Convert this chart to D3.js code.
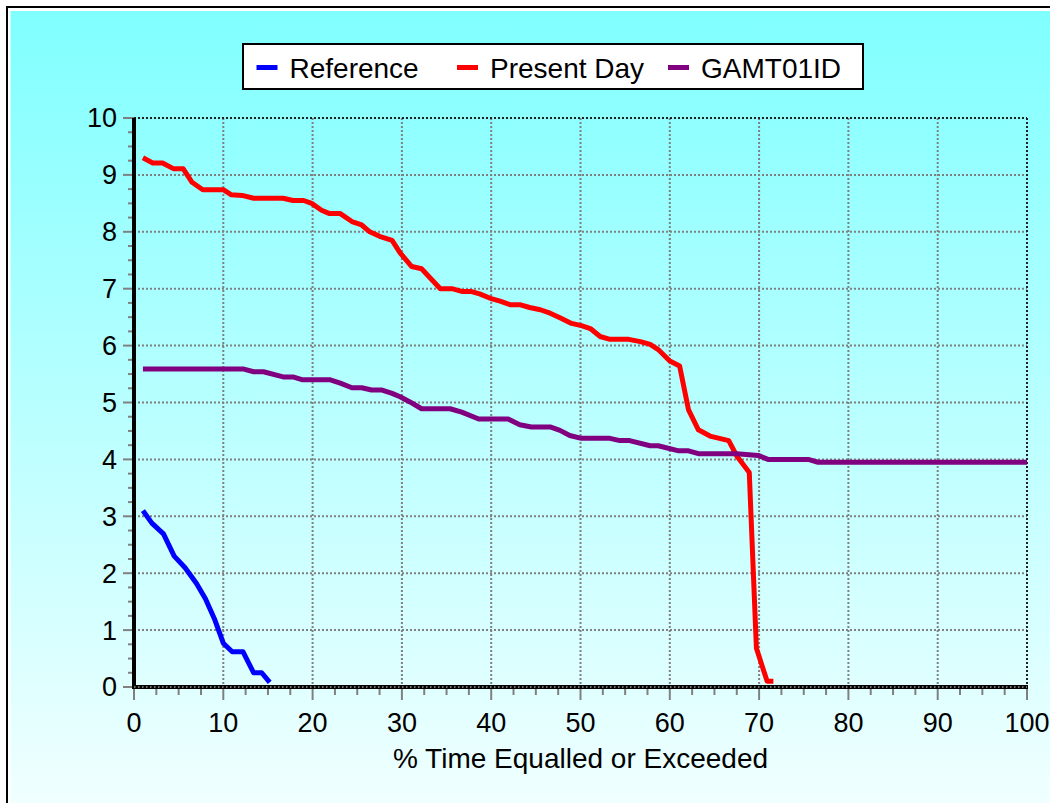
<!DOCTYPE html>
<html>
<head>
<meta charset="utf-8">
<script src="https://cdn.jsdelivr.net/npm/d3@7"></script>
<style>
  html, body { margin: 0; padding: 0; background: #ffffff; }
  svg { display: block; }
  text { font-family: Arial, "Liberation Sans", sans-serif; fill: #000; }
</style>
</head>
<body>
<svg id="chart" width="1050" height="803"></svg>
<script>
// ---------------- DATA ----------------
const seriesNames = ["Reference", "Present Day", "GAMT01ID"];
const seriesColors = ["#0000ff", "#ff0000", "#800080"];

const referenceX = [1, 2, 3.3, 4.5, 5.7, 7, 8, 9, 10, 11, 12.2, 13.4, 14.3, 15.2];
const referenceY = [3.1, 2.88, 2.69, 2.3, 2.1, 1.82, 1.55, 1.2, 0.77, 0.62, 0.62, 0.25, 0.25, 0.08];

const presentDayX = [1, 2.1, 3.2, 4.4, 5.5, 6.5, 7.7, 10, 10.9, 12.1, 13.4, 16.7, 17.8, 19, 19.9, 21, 21.9, 23.1, 24.4, 25.5, 26.4, 27.5, 28.9, 29.8, 31.1, 32.2, 34.3, 35.6, 36.8, 37.8, 38.7, 40.1, 41, 42.1, 43.2, 44.3, 45.5, 46.6, 47.7, 49, 50.1, 51.1, 52.2, 53.3, 55.4, 56.7, 57.8, 58.7, 60, 61.1, 62.1, 63.2, 64.5, 66.6, 67.5, 68.9, 69.7, 70.9, 71.6];
const presentDayY = [9.3, 9.21, 9.21, 9.11, 9.11, 8.87, 8.74, 8.74, 8.65, 8.64, 8.59, 8.59, 8.55, 8.55, 8.5, 8.38, 8.32, 8.32, 8.18, 8.12, 8.0, 7.92, 7.85, 7.63, 7.39, 7.35, 7.0, 7.0, 6.95, 6.95, 6.91, 6.82, 6.78, 6.72, 6.72, 6.67, 6.63, 6.57, 6.49, 6.39, 6.35, 6.3, 6.16, 6.11, 6.11, 6.07, 6.02, 5.93, 5.73, 5.64, 4.87, 4.52, 4.41, 4.33, 4.06, 3.77, 0.68, 0.1, 0.1];

const gamtX = [1, 12.2, 13.4, 14.5, 16.7, 17.8, 18.8, 21.9, 23.1, 24.4, 25.5, 26.6, 27.7, 28.9, 29.8, 30.9, 32.2, 35.4, 36.7, 38.6, 41.9, 43.2, 44.5, 46.6, 47.7, 48.8, 50.1, 53.3, 54.4, 55.5, 57.8, 58.7, 61, 62.1, 63.2, 67.5, 69.9, 71, 75.5, 76.6, 100];
const gamtY = [5.59, 5.59, 5.54, 5.54, 5.45, 5.45, 5.4, 5.4, 5.34, 5.26, 5.26, 5.22, 5.22, 5.16, 5.1, 5.01, 4.89, 4.89, 4.83, 4.71, 4.71, 4.61, 4.57, 4.57, 4.51, 4.42, 4.37, 4.37, 4.33, 4.33, 4.24, 4.24, 4.15, 4.15, 4.1, 4.1, 4.07, 4.0, 4.0, 3.95, 3.95];

const xTicks = [0, 10, 20, 30, 40, 50, 60, 70, 80, 90, 100];
const yTicks = [0, 1, 2, 3, 4, 5, 6, 7, 8, 9, 10];
const xLabel = "% Time Equalled or Exceeded";

// ---------------- LAYOUT ----------------
const svg = d3.select("#chart");
const W = 1050, H = 803;
const pL = 134, pR = 1027, pT = 118, pB = 687;

const x = d3.scaleLinear().domain([0, 100]).range([pL, pR]);
const y = d3.scaleLinear().domain([0, 10]).range([pB, pT]);

// background gradient
const defs = svg.append("defs");
const grad = defs.append("linearGradient").attr("id", "bg")
  .attr("x1", 0).attr("y1", 0).attr("x2", 0).attr("y2", 1);
grad.append("stop").attr("offset", "0%").attr("stop-color", "rgb(128,255,255)");
grad.append("stop").attr("offset", "100%").attr("stop-color", "rgb(242,255,255)");

svg.append("rect").attr("x", 0).attr("y", 0).attr("width", W).attr("height", H).attr("fill", "#fff");
svg.append("rect").attr("x", 7).attr("y", 7).attr("width", W + 20).attr("height", H + 20)
  .attr("fill", "none").attr("stroke", "#000").attr("stroke-width", 2);
svg.append("rect").attr("x", 10.5).attr("y", 11).attr("width", W).attr("height", H)
  .attr("fill", "url(#bg)");

// gridlines
const grid = svg.append("g");
grid.selectAll(".hg").data(yTicks.filter(d => d > 0 && d < 10)).join("line")
  .attr("x1", pL).attr("x2", pR)
  .attr("y1", d => y(d)).attr("y2", d => y(d))
  .attr("stroke", "#808080").attr("stroke-width", 2).attr("stroke-dasharray", "2,2");
grid.selectAll(".vg").data(xTicks.filter(d => d > 0 && d < 100)).join("line")
  .attr("y1", pT).attr("y2", pB)
  .attr("x1", d => x(d)).attr("x2", d => x(d))
  .attr("stroke", "#808080").attr("stroke-width", 2).attr("stroke-dasharray", "2,2");

// top and right borders (dotted dark)
svg.append("line").attr("x1", pL).attr("x2", pR).attr("y1", y(10)).attr("y2", y(10))
  .attr("stroke", "#202020").attr("stroke-width", 2).attr("stroke-dasharray", "2,2");
svg.append("line").attr("x1", x(100)).attr("x2", x(100)).attr("y1", pT).attr("y2", pB)
  .attr("stroke", "#202020").attr("stroke-width", 2).attr("stroke-dasharray", "2,2");

// y axis ticks
const yMinor = d3.range(0, 10.001, 0.25);
svg.append("g").selectAll("line").data(yMinor).join("line")
  .attr("x1", d => Number.isInteger(d) ? pL - 11 : pL - 6).attr("x2", pL)
  .attr("y1", d => y(d)).attr("y2", d => y(d))
  .attr("stroke", "#808080").attr("stroke-width", 2);
// x axis ticks
const xMinor = d3.range(0, 100.001, 2.5);
svg.append("g").selectAll("line").data(xMinor).join("line")
  .attr("y1", pB).attr("y2", d => d % 10 === 0 ? pB + 13 : pB + 8)
  .attr("x1", d => x(d)).attr("x2", d => x(d))
  .attr("stroke", "#808080").attr("stroke-width", 2);

// axis lines
svg.append("line").attr("x1", pL).attr("x2", pL).attr("y1", pT).attr("y2", pB + 2)
  .attr("stroke", "#000").attr("stroke-width", 4);
svg.append("line").attr("x1", pL).attr("x2", pR + 1).attr("y1", pB).attr("y2", pB)
  .attr("stroke", "#000").attr("stroke-width", 4);
svg.append("line").attr("x1", pL).attr("x2", pR).attr("y1", pB).attr("y2", pB)
  .attr("stroke", "#9a9a9a").attr("stroke-width", 1.5).attr("stroke-dasharray", "1.5,2.5");

// tick labels
svg.append("g").selectAll("text").data(yTicks).join("text")
  .attr("x", 117).attr("y", d => y(d)).attr("dy", "0.35em")
  .attr("text-anchor", "end").attr("font-size", 27).text(d => d);
svg.append("g").selectAll("text").data(xTicks).join("text")
  .attr("x", d => x(d)).attr("y", 732)
  .attr("text-anchor", "middle").attr("font-size", 27).text(d => d);

svg.append("text").attr("x", (pL + pR) / 2).attr("y", 768)
  .attr("text-anchor", "middle").attr("font-size", 28).text(xLabel);

// series lines
const series = [
  { xs: referenceX, ys: referenceY },
  { xs: presentDayX, ys: presentDayY },
  { xs: gamtX, ys: gamtY }
];
const line = d3.line().x(d => x(d[0])).y(d => y(d[1]));
series.forEach((s, i) => {
  const pts = s.xs.map((v, j) => [v, s.ys[j]]);
  svg.append("path").datum(pts).attr("d", line)
    .attr("fill", "none").attr("stroke", seriesColors[i]).attr("stroke-width", 5)
    .attr("stroke-linejoin", "round");
});

// legend
const lg = svg.append("g");
lg.append("rect").attr("x", 243).attr("y", 44).attr("width", 620).attr("height", 45)
  .attr("fill", "#fff").attr("stroke", "#000").attr("stroke-width", 2);
const legendMarkX = [256.5, 457, 668];
seriesNames.forEach((n, i) => {
  lg.append("line").attr("x1", legendMarkX[i]).attr("x2", legendMarkX[i] + 21)
    .attr("y1", 67.5).attr("y2", 67.5)
    .attr("stroke", seriesColors[i]).attr("stroke-width", 5);
  lg.append("text").attr("x", legendMarkX[i] + 33).attr("y", 77.5)
    .attr("font-size", 28).text(n);
});
</script>
</body>
</html>
